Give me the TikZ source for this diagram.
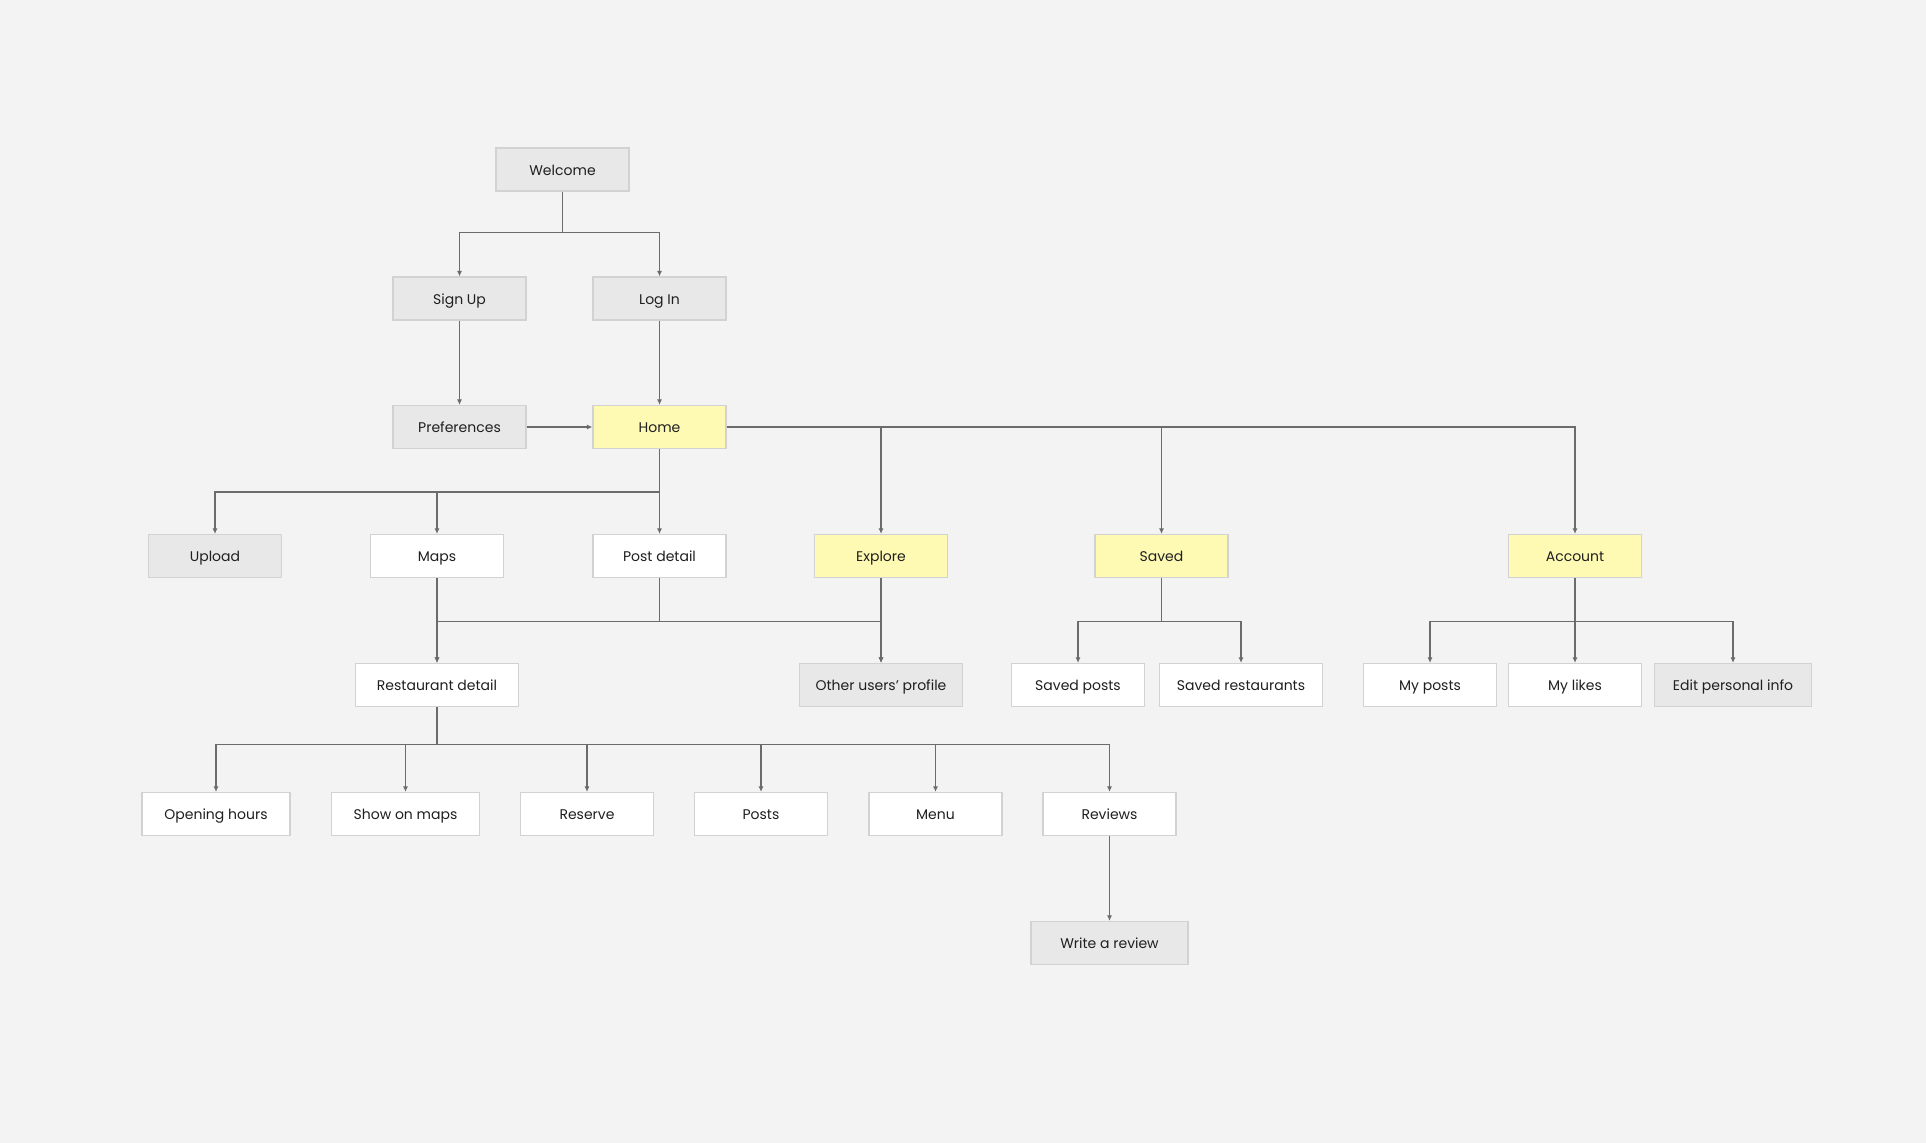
\documentclass[tikz,border=0pt]{standalone}
\usepackage{fontspec}
\setmainfont{Poppins}
\usetikzlibrary{arrows.meta}
\definecolor{bgc}{HTML}{F3F3F3}
\definecolor{greyfill}{HTML}{E8E8E8}
\definecolor{yellowfill}{HTML}{FFFAB3}
\definecolor{boxline}{HTML}{D2D2D2}
\definecolor{linec}{HTML}{6B6B6B}
\tikzset{
  screen/.style={draw=boxline, line width=0.6pt, minimum width=66.5pt, minimum height=21.5pt,
    inner sep=0pt, text height=7pt, text depth=1.3pt, font=\fontsize{7}{8}\selectfont, text=black!88},
  greybox/.style={screen, fill=greyfill},
  whitebox/.style={screen, fill=white},
  yellowbox/.style={screen, fill=yellowfill},
  wide/.style={minimum width=81.5pt},
  mid/.style={minimum width=74pt},
  link/.style={draw=linec, line width=0.65pt, -{Latex[length=2.8pt,width=2.6pt]}},
}
\begin{document}
\begin{tikzpicture}[x=0.5pt,y=-0.5pt]
	\fill[bgc] (0,0) rectangle (1926,1143);
	\useasboundingbox (0,0) rectangle (1926,1143);
	% start
	\node[greybox] (welcome) at (562.5,169.5) {Welcome};
	\node[greybox] (signup) at (459.5,298.5) {Sign Up};
	\node[greybox] (login) at (659.5,298.5) {Log In};
	\node[greybox] (prefs) at (459.5,427) {Preferences};
	\node[yellowbox] (home) at (659.5,427) {Home};
	% main tabs
	\node[greybox] (upload) at (215,556) {Upload};
	\node[whitebox] (maps) at (437,556) {Maps};
	\node[whitebox] (postdetail) at (659.5,556) {Post detail};
	\node[yellowbox] (explore) at (881,556) {Explore};
	\node[yellowbox] (saved) at (1161.5,556) {Saved};
	\node[yellowbox] (account) at (1575,556) {Account};
	% second level
	\node[whitebox,wide] (restdetail) at (437,685) {Restaurant detail};
	\node[greybox,wide] (otherprofile) at (881,685) {Other users’ profile};
	\node[whitebox] (savedposts) at (1078,685) {Saved posts};
	\node[whitebox,wide] (savedrest) at (1241,685) {Saved restaurants};
	\node[whitebox] (myposts) at (1430,685) {My posts};
	\node[whitebox] (mylikes) at (1575,685) {My likes};
	\node[greybox,minimum width=78.5pt] (editinfo) at (1733,685) {Edit personal info};
	% restaurant
	\node[whitebox,mid] (opening) at (216,814) {Opening hours};
	\node[whitebox,mid] (showmaps) at (405.5,814) {Show on maps};
	\node[whitebox] (reserve) at (587,814) {Reserve};
	\node[whitebox] (posts) at (761,814) {Posts};
	\node[whitebox] (menu) at (935.5,814) {Menu};
	\node[whitebox] (reviews) at (1109.5,814) {Reviews};
	\node[greybox,minimum width=78.5pt] (writereview) at (1109.5,943) {Write a review};
	% connectors
	\draw[link] (welcome.south) -- ++(0,41) -| (signup.north);
	\draw[link] (welcome.south) -- ++(0,41) -| (login.north);
	\draw[link] (signup) -- (prefs);
	\draw[link] (login) -- (home);
	\draw[link] (prefs) -- (home);
	\draw[link] (home.south) -- ++(0,43) -| (upload.north);
	\draw[link] (home.south) -- ++(0,43) -| (maps.north);
	\draw[link] (home) -- (postdetail);
	\foreach \n in {explore,saved,account}
		\draw[link] (home.east) -| (\n.north);
	\draw[link] (maps) -- (restdetail);
	\draw[link] (postdetail.south) -- ++(0,43.7) -| (restdetail.north);
	\draw[link] (postdetail.south) -- ++(0,43.7) -| (otherprofile.north);
	\draw[link] (explore) -- (otherprofile);
	\foreach \n in {savedposts,savedrest}
		\draw[link] (saved.south) -- ++(0,43.7) -| (\n.north);
	\foreach \n in {myposts,mylikes,editinfo}
		\draw[link] (account.south) -- ++(0,43.7) -| (\n.north);
	\foreach \n in {opening,showmaps,reserve,posts,menu,reviews}
		\draw[link] (restdetail.south) -- ++(0,37.7) -| (\n.north);
	\draw[link] (reviews) -- (writereview);
\end{tikzpicture}
\end{document}
